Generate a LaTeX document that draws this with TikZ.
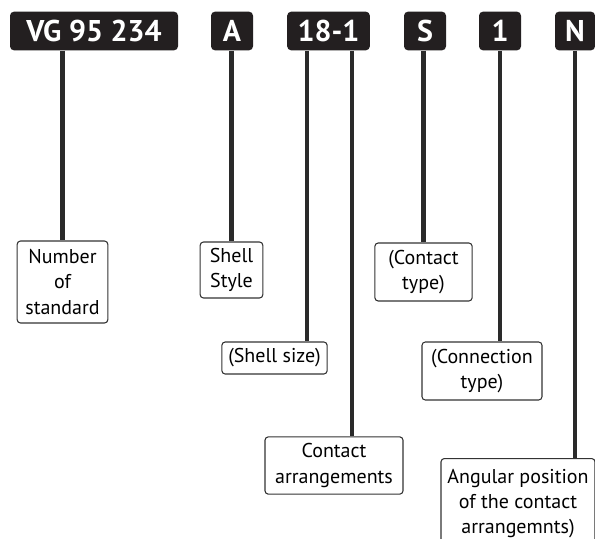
\documentclass[tikz,border=0pt]{standalone}
\usepackage{fontspec}
\setmainfont{PT Sans}
\usepackage{tikz}
\usetikzlibrary{
  positioning,
  calc,
}
\definecolor{codeBg}{HTML}{231F20}
\definecolor{stemGray}{HTML}{2A2A2A}
\tikzset{
  codeBox/.style={
    rectangle, rounded corners=3pt, fill=codeBg, text=white,
    font=\bfseries\fontsize{22.5}{24}\selectfont,
    minimum height=29pt, inner xsep=4pt, inner ysep=2pt,
  },
  descBox/.style={
    rectangle, rounded corners=2.5pt, draw=black!80, line width=0.8pt,
    fill=white, align=center, inner sep=3pt,
    font=\fontsize{15}{19}\selectfont,
  },
  stemLine/.style={
    line width=3.6pt, draw=stemGray,
  },
}

\begin{document}
\begin{tikzpicture}[x=0.75pt,y=-0.75pt]
\useasboundingbox (0,0) rectangle (595,538);

% the code blocks along the top
\node[codeBox, minimum width=126pt] (vg)   at (94,31)    {VG 95 234};
\node[codeBox, minimum width=31.5pt] (style) at (232,31)  {A};
\node[codeBox, minimum width=62pt]  (size) at (328.5,31) {18-1};
\node[codeBox, minimum width=31.5pt] (ctype) at (425,31)  {S};
\node[codeBox, minimum width=31.5pt] (conn) at (500,31)   {1};
\node[codeBox, minimum width=30pt]  (angle) at (575,31)   {N};

% the explanations below
\node[descBox, minimum width=68pt, minimum height=61.5pt] (numStd)
  at (62.5,282) {Number\\of\\standard};
\node[descBox, minimum width=47pt, minimum height=42pt] (shellStyle)
  at (231.5,270) {Shell\\Style};
\node[descBox, minimum width=79pt, minimum height=24pt] (shellSize)
  at (274.5,358) {(Shell size)};
\node[descBox, minimum width=73pt, minimum height=43.5pt] (contactType)
  at (423.5,272) {(Contact\\type)};
\node[descBox, minimum width=90pt, minimum height=43.5pt] (connType)
  at (482,371) {(Connection\\type)};
\node[descBox, minimum width=103.5pt, minimum height=43pt] (contactArr)
  at (334,465.5) {Contact\\arrangements};
\node[descBox, minimum width=115.5pt, minimum height=67.5pt, anchor=north] (angPos)
  at (518,458) {Angular position\\of the contact\\arrangemnts)};

% stems
\coordinate (sizeStem) at (307,0);
\coordinate (arrStem)  at (352,0);
\coordinate (connStem) at (500,0);
\coordinate (angStem)  at (575,0);
\draw[stemLine] (vg.south -| numStd.north) -- (numStd.north);
\draw[stemLine] (style.south -| shellStyle.north) -- (shellStyle.north);
\draw[stemLine] (size.south -| sizeStem) -- (shellSize.north -| sizeStem);
\draw[stemLine] (size.south -| arrStem) -- (contactArr.north -| arrStem);
\draw[stemLine] (ctype.south -| contactType.north) -- (contactType.north);
\draw[stemLine] (conn.south -| connStem) -- (connType.north -| connStem);
\draw[stemLine] (angle.south -| angStem) -- (angPos.north -| angStem);
\end{tikzpicture}
\end{document}
